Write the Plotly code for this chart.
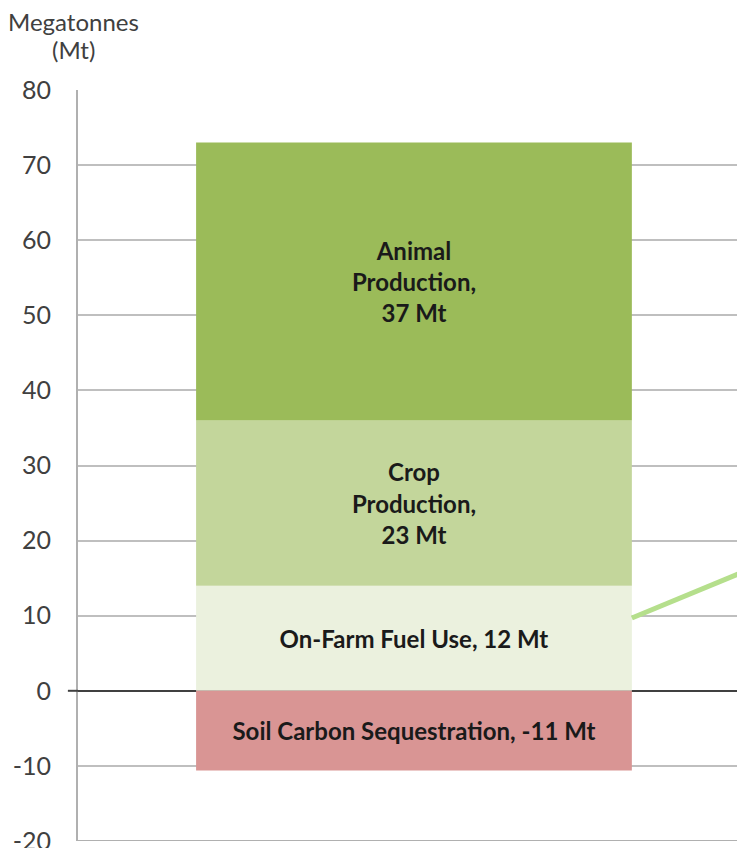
import plotly.graph_objects as go

categories = ["Total"]
segment_names = ["On-Farm Fuel Use", "Crop Production", "Animal Production", "Soil Carbon Sequestration"]
segment_values = [14, 22, 37, -10.6]
segment_labels = ["On-Farm Fuel Use, 12 Mt", "Crop<br>Production,<br>23 Mt",
                  "Animal<br>Production,<br>37 Mt", "Soil Carbon Sequestration, -11 Mt"]
segment_colors = ["#ebf1de", "#c3d69b", "#9bbb59", "#d99594"]
y_ticks = [-20, -10, 0, 10, 20, 30, 40, 50, 60, 70, 80]
y_tick_text = ["-20", "-10", "0", "10", "20", "30", "40", "50", "60", "70", "80"]

fig = go.Figure()
for name, val, lab, col in zip(segment_names, segment_values, segment_labels, segment_colors):
    fig.add_trace(go.Bar(
        x=[0], y=[val], name=name, width=1.0,
        marker=dict(color=col, line=dict(width=0)),
        text=[lab], textposition="inside", insidetextanchor="middle", textangle=0,
        textfont=dict(family="Lato", size=24, color="#1a1a1a", weight="bold"),
        hoverinfo="name+y",
    ))

fig.update_layout(
    width=745, height=848,
    barmode="relative",
    showlegend=False,
    plot_bgcolor="white", paper_bgcolor="white",
    margin=dict(l=70, r=0, t=82, b=15),
    font=dict(family="Lato", size=24, color="#404040"),
    uniformtext=dict(mode="show", minsize=24),
    xaxis=dict(range=[-0.771, 0.778], showticklabels=False, showgrid=False,
               zeroline=False, showline=False, fixedrange=True),
    yaxis=dict(range=[-20, 80], tickvals=y_ticks, ticktext=y_tick_text,
               showgrid=True, gridcolor="#bfbfbf",
               gridwidth=2, zeroline=True, zerolinecolor="#404040", zerolinewidth=2,
               showline=True, linecolor="#b0b0b0", linewidth=2,
               ticks="", ticklabelstandoff=20,
               tickfont=dict(family="Lato", size=25, color="#404040")),
    annotations=[
        dict(text="Megatonnes", xref="paper", yref="paper", x=-0.006, y=1,
             xanchor="center", yanchor="middle", yshift=69, showarrow=False,
             font=dict(family="Lato", size=24, color="#404040")),
        dict(text="(Mt)", xref="paper", yref="paper", x=-0.006, y=1,
             xanchor="center", yanchor="middle", yshift=41, showarrow=False,
             font=dict(family="Lato", size=24, color="#404040")),
    ],
    shapes=[
        dict(type="line", xref="paper", yref="y", x0=0, x1=1, y0=-20, y1=-20,
             line=dict(color="#b0b0b0", width=2)),
        dict(type="line", xref="paper", yref="y", x0=-0.015, x1=0, y0=0, y1=0,
             line=dict(color="#404040", width=2)),
        dict(type="line", xref="x", yref="y", x0=0.5, y0=9.7, x1=0.759, y1=15.9,
             line=dict(color="#b5df8c", width=5)),
    ],
)

fig.write_html("out.html")
